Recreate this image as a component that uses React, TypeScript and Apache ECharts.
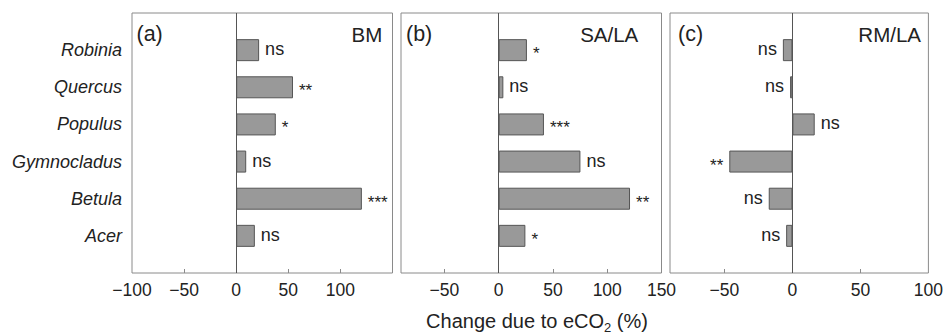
import React, { useEffect, useRef } from "react";
import * as echarts from "echarts";

const categories = ["Acer", "Betula", "Gymnocladus", "Populus", "Quercus", "Robinia"];

const bmValues = [17.9, 120.6, 9.6, 38, 54.5, 22];
const bmSig = ["ns", "***", "ns", "*", "**", "ns"];
const saValues = [24.6, 121, 75.3, 41.7, 4.3, 26];
const saSig = ["*", "**", "ns", "***", "ns", "*"];
const rmValues = [-4.6, -17.4, -46.4, 16.4, -1.7, -7];
const rmSig = ["ns", "ns", "**", "ns", "ns", "ns"];

const panelLetters = ["(a)", "(b)", "(c)"];
const panelTitles = ["BM", "SA/LA", "RM/LA"];
const xMins = [-100, -90, -90];
const xMaxs = [150, 150, 100];
const tickValues = [[-50, 50, 100], [-50, 50, 100], [-50, 50]];
const labelValues = [[-100, -50, 0, 50, 100], [-50, 0, 50, 100, 150], [-50, 0, 50, 100]];
const xTitle = "Change due to eCO";

const FONT = "'Liberation Sans', Arial, Helvetica, sans-serif";

export default function App() {
  const ref = useRef<HTMLDivElement>(null);
  useEffect(() => {
    if (!ref.current) return;
    const chart = echarts.init(ref.current, null, { renderer: "svg" });
    const lefts = [132, 401, 670];
    const W = 260.5;
    const top = 13;
    const H = 260;
    const yCats = ["", ...categories, ""];
    const valuesList = [bmValues, saValues, rmValues];
    const sigList = [bmSig, saSig, rmSig];

    const grids = lefts.map((l) => ({
      left: l,
      top,
      width: W,
      height: H,
      show: true,
      borderColor: "#8a8a8a",
      borderWidth: 1,
      backgroundColor: "transparent",
      containLabel: false,
    }));

    const xAxes = lefts.map((_, i) => ({
      type: "value",
      gridIndex: i,
      min: xMins[i],
      max: xMaxs[i],
      axisLine: { show: false },
      splitLine: { show: false },
      axisTick: {
        show: true,
        inside: true,
        length: 4,
        customValues: tickValues[i],
        lineStyle: { color: "#8a8a8a", width: 1 },
      },
      axisLabel: {
        show: true,
        customValues: labelValues[i],
        margin: 8,
        fontSize: 17.5,
        fontFamily: FONT,
        color: "#222",
        formatter: (v: number) => (v < 0 ? "\u2212" + Math.abs(v) : String(v)),
      },
    }));

    const yAxes = lefts.map((_, i) => ({
      type: "category",
      gridIndex: i,
      data: yCats,
      boundaryGap: false,
      axisLine: { show: false },
      axisTick: { show: false },
      splitLine: { show: false },
      axisLabel: {
        show: i === 0,
        margin: 10,
        fontSize: 18,
        fontStyle: "italic",
        fontFamily: FONT,
        color: "#222",
      },
    }));

    const series = valuesList.map((vals, i) => {
      const sig = sigList[i];
      const data: any[] = ["-"];
      vals.forEach((v, j) => {
        const star = sig[j] !== "ns";
        data.push({
          value: v,
          label: {
            position: v >= 0 ? "right" : "left",
            fontSize: star ? 17 : 18,
            offset: star ? [0, 3.5] : [0, -1],
          },
        });
      });
      data.push("-");
      return {
        type: "bar",
        xAxisIndex: i,
        yAxisIndex: i,
        data,
        barWidth: 22,
        itemStyle: { color: "#999999", borderColor: "#555555", borderWidth: 1 },
        label: {
          show: true,
          distance: 6,
          fontFamily: FONT,
          color: "#222",
          formatter: (p: any) => sig[p.dataIndex - 1] ?? "",
        },
        markLine: {
          silent: true,
          symbol: "none",
          label: { show: false },
          lineStyle: { color: "#555", width: 1, type: "solid" },
          data: [{ xAxis: 0 }],
        },
      };
    });

    const graphics: any[] = [];
    const letterLefts = [136.5, 406, 678];
    letterLefts.forEach((l, i) => {
      graphics.push({
        type: "text",
        x: l,
        y: 34,
        style: {
          text: panelLetters[i],
          fontSize: 21.5,
          fontFamily: FONT,
          fill: "#222",
          align: "left",
          verticalAlign: "middle",
        },
      });
    });
    const titleRights = [382.3, 638.3, 921];
    panelTitles.forEach((t, i) => {
      graphics.push({
        type: "text",
        x: titleRights[i],
        y: 34,
        style: {
          text: t,
          fontSize: 20.5,
          fontFamily: FONT,
          fill: "#222",
          align: "right",
          verticalAlign: "middle",
        },
      });
    });
    graphics.push({
      type: "text",
      x: 537,
      y: 321,
      style: {
        text: xTitle + "{sub|2} (%)",
        fontSize: 20,
        fontFamily: FONT,
        fill: "#222",
        align: "center",
        verticalAlign: "middle",
        rich: {
          sub: { fontSize: 13, fontFamily: FONT, fill: "#222", padding: [12, 0, 0, 0] },
        },
      },
    });

    chart.setOption({
      animation: false,
      backgroundColor: "#ffffff",
      grid: grids,
      xAxis: xAxes,
      yAxis: yAxes,
      series,
      graphic: graphics,
    });
    return () => chart.dispose();
  }, []);
  return (
    <div
      ref={ref}
      style={{ position: "fixed", left: 0, top: 0, width: 946, height: 335 }}
    />
  );
}
